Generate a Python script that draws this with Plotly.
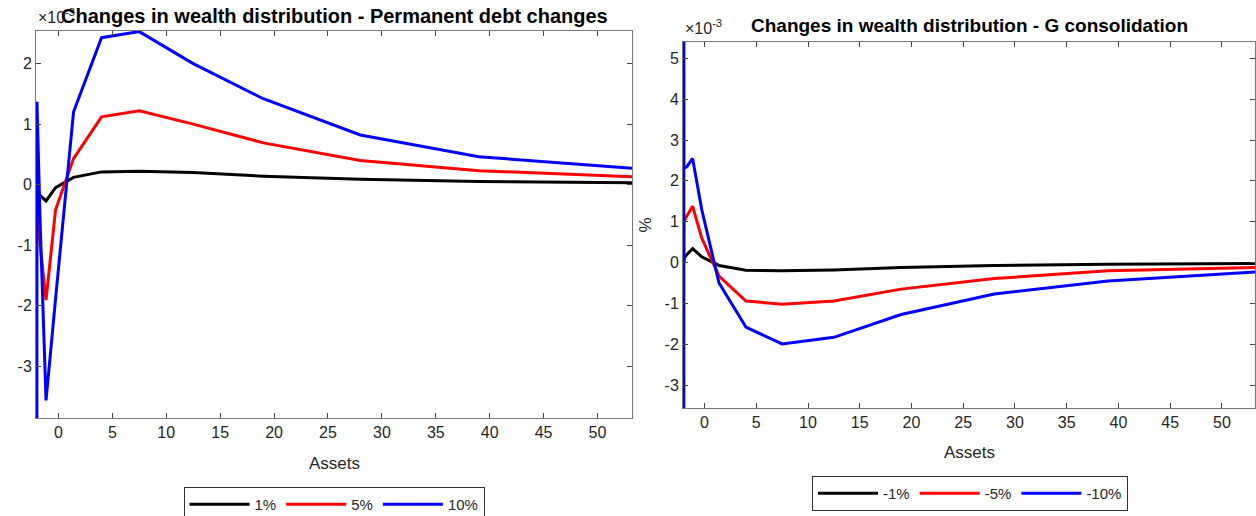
import plotly.graph_objects as go

# asset grid (shared by both panels)
assets = [-2.0, -1.995, -1.99, -1.7, -1.15, -0.27, 1.4, 4.0, 7.5, 12.5, 19.0, 28.0, 39.0, 53.2]

# left panel: permanent debt changes (x 10^-3)
debt_labels = ['1%', '5%', '10%']
debt_1 = [-0.15, -0.15, -0.15, -0.18, -0.27, -0.05, 0.12, 0.21, 0.22, 0.20, 0.14, 0.09, 0.05, 0.03]
debt_5 = [-0.2, -0.4, -0.5, -1.0, -1.91, -0.42, 0.43, 1.12, 1.22, 1.0, 0.69, 0.40, 0.23, 0.13]
debt_10 = [-6.0, 1.37, 1.37, -0.6, -3.57, -1.9, 1.2, 2.43, 2.53, 2.0, 1.42, 0.82, 0.46, 0.27]

# right panel: G consolidation (x 10^-3)
cons_labels = ['-1%', '-5%', '-10%']
cons_1 = [0.0, 0.05, 0.1, 0.2, 0.34, 0.14, -0.07, -0.19, -0.2, -0.18, -0.12, -0.07, -0.04, -0.02]
cons_5 = [0.0, 0.6, 1.0, 1.15, 1.38, 0.6, -0.33, -0.94, -1.02, -0.94, -0.65, -0.39, -0.2, -0.12]
cons_10 = [-6.0, 7.0, 2.3, 2.35, 2.55, 1.3, -0.5, -1.58, -1.99, -1.83, -1.27, -0.77, -0.45, -0.23]

x_ticks = [0, 5, 10, 15, 20, 25, 30, 35, 40, 45, 50]
left_yticks = [-3, -2, -1, 0, 1, 2]
right_yticks = [-3, -2, -1, 0, 1, 2, 3, 4, 5]

colors = ['black', 'red', 'blue']
W, H = 1256, 516
font = 'Liberation Sans'
axcol = '#262626'

fig = go.Figure()
for ys, name, c in zip([debt_1, debt_5, debt_10], debt_labels, colors):
    fig.add_trace(go.Scatter(x=assets, y=ys, name=name, mode='lines',
                             line=dict(color=c, width=3),
                             xaxis='x', yaxis='y', legend='legend'))
for ys, name, c in zip([cons_1, cons_5, cons_10], cons_labels, colors):
    fig.add_trace(go.Scatter(x=assets, y=ys, name=name, mode='lines',
                             line=dict(color=c, width=3),
                             xaxis='x2', yaxis='y2', legend='legend2'))


def px_x(a, b):
    return [a / W, b / W]


def px_y(top, bottom):
    return [1 - bottom / H, 1 - top / H]


ax_common = dict(showline=True, linecolor='#777', linewidth=1, mirror='ticks',
                 ticks='inside', ticklen=5, tickcolor='#444', showgrid=False,
                 zeroline=False, tickfont=dict(family=font, size=16, color=axcol))
xt = dict(tickvals=x_ticks, ticktext=[str(v) for v in x_ticks])
title_font = dict(family=font, size=17, color=axcol)


def note(text, x, y, size, color=axcol, xanchor='center', yanchor='middle'):
    return dict(text=text, x=x / W, y=1 - y / H, xref='paper', yref='paper',
                xanchor=xanchor, yanchor=yanchor, showarrow=False,
                font=dict(family=font, size=size, color=color))


fig.update_layout(
    width=W, height=H,
    paper_bgcolor='white', plot_bgcolor='white',
    margin=dict(l=0, r=0, t=0, b=0, autoexpand=False),
    xaxis=dict(domain=px_x(36, 632), range=[-2.08, 53.2], anchor='y', **xt, **ax_common),
    yaxis=dict(domain=px_y(31, 418), range=[-3.86, 2.54], anchor='x',
               tickvals=left_yticks, ticktext=[str(v) for v in left_yticks], **ax_common),
    xaxis2=dict(domain=px_x(683, 1255), range=[-2.08, 53.2], anchor='y2', **xt, **ax_common),
    yaxis2=dict(domain=px_y(42, 408), range=[-3.56, 5.40], anchor='x2',
                tickvals=right_yticks, ticktext=[str(v) for v in right_yticks],
                title=dict(text='%', font=title_font, standoff=8), **ax_common),
    legend=dict(orientation='h', x=334 / W, y=1 - 487 / H, xanchor='center', yanchor='top',
                bordercolor='#333', borderwidth=1, itemwidth=60,
                font=dict(family=font, size=15, color=axcol)),
    legend2=dict(orientation='h', x=970 / W, y=1 - 476 / H, xanchor='center', yanchor='top',
                 bordercolor='#333', borderwidth=1, itemwidth=60,
                 font=dict(family=font, size=15, color=axcol)),
    annotations=[
        note('\u00d710<sup>-3</sup>', 36, 28, 16, xanchor='left', yanchor='bottom'),
        note('<b>Changes in wealth distribution - Permanent debt changes</b>', 334, 16, 20,
             color='black'),
        note('Assets', 334, 463, 17),
        note('\u00d710<sup>-3</sup>', 683, 39, 16, xanchor='left', yanchor='bottom'),
        note('<b>Changes in wealth distribution - G consolidation</b>', 969, 26, 19,
             color='black'),
        note('Assets', 969, 452, 17),
    ],
)

fig.write_html('out.html', config={'displayModeBar': False},
               post_script="document.body.style.margin='0';document.body.style.padding='0';")
